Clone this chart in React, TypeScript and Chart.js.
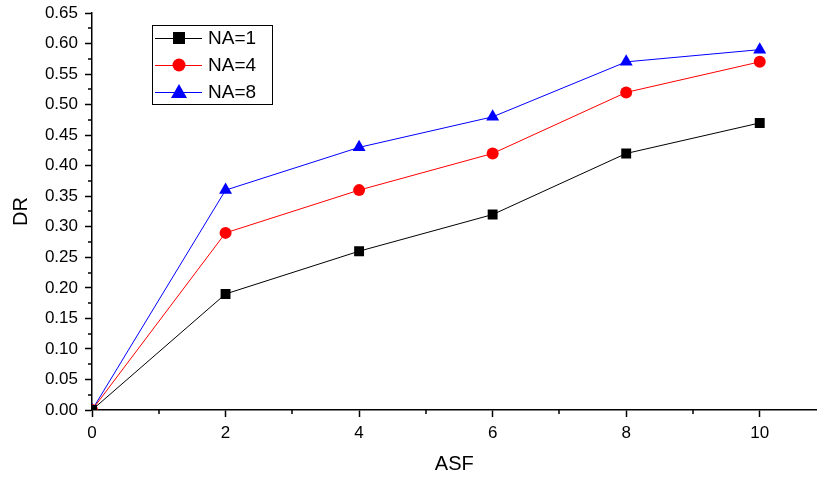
import React, { useEffect, useRef } from "react";
import { Chart, registerables } from "chart.js";

Chart.register(...registerables);

const asf = [0, 2, 4, 6, 8, 10];
const na1 = [0, 0.19, 0.26, 0.32, 0.42, 0.47];
const na4 = [0, 0.29, 0.36, 0.42, 0.52, 0.57];
const na8 = [0, 0.36, 0.43, 0.48, 0.57, 0.59];
const seriesLabels = ["NA=1", "NA=4", "NA=8"];
const seriesColors = ["#000000", "#ff0000", "#0000ff"];
const seriesMarkers = ["rect", "circle", "triangle"];

const FONT = "'Liberation Sans', Arial, sans-serif";

const minorTicks = {
  id: "minorTicks",
  afterDraw(chart: any) {
    const ctx = chart.ctx;
    const x = chart.scales.x;
    const y = chart.scales.y;
    ctx.save();
    ctx.strokeStyle = "#000";
    ctx.lineWidth = 1.5;
    for (let v = 1; v <= 10; v += 2) {
      const px = Math.round(x.getPixelForValue(v));
      ctx.beginPath();
      ctx.moveTo(px, y.bottom);
      ctx.lineTo(px, y.bottom + 4);
      ctx.stroke();
    }
    for (let i = 0; i < 13; i++) {
      const v = 0.025 + i * 0.05;
      const py = Math.round(y.getPixelForValue(v));
      ctx.beginPath();
      ctx.moveTo(x.left, py);
      ctx.lineTo(x.left - 4, py);
      ctx.stroke();
    }
    ctx.restore();
  },
};

const boxLegend = {
  id: "boxLegend",
  afterDraw(chart: any) {
    const ctx = chart.ctx;
    const left = 152;
    const top = 25;
    const w = 120;
    const h = 79;
    ctx.save();
    ctx.fillStyle = "#fff";
    ctx.fillRect(left, top, w, h);
    ctx.strokeStyle = "#000";
    ctx.lineWidth = 1;
    ctx.strokeRect(left + 0.5, top + 0.5, w, h);
    chart.data.datasets.forEach((ds: any, i: number) => {
      const cy = top + 13 + i * 27;
      ctx.strokeStyle = ds.borderColor;
      ctx.lineWidth = 1;
      ctx.beginPath();
      ctx.moveTo(left + 3, cy + 0.5);
      ctx.lineTo(left + 50, cy + 0.5);
      ctx.stroke();
      ctx.fillStyle = ds.borderColor;
      const mx = left + 27;
      const m = ds.pointStyle;
      if (m === "rect") {
        ctx.fillRect(mx - 6, cy - 6, 12, 12);
      } else if (m === "circle") {
        ctx.beginPath();
        ctx.arc(mx, cy, 6.5, 0, Math.PI * 2);
        ctx.fill();
      } else {
        ctx.beginPath();
        ctx.moveTo(mx, cy - 8);
        ctx.lineTo(mx + 8, cy + 6);
        ctx.lineTo(mx - 8, cy + 6);
        ctx.closePath();
        ctx.fill();
      }
      ctx.fillStyle = "#000";
      ctx.font = `19px ${FONT}`;
      ctx.textBaseline = "middle";
      ctx.textAlign = "left";
      ctx.fillText(ds.label, left + 56, cy + 1);
    });
    ctx.restore();
  },
};

export default function App() {
  const ref = useRef<HTMLCanvasElement | null>(null);
  useEffect(() => {
    document.body.style.margin = "0";
    const canvas = ref.current!;
    const data = [na1, na4, na8];
    const chart = new Chart(canvas, {
      type: "line",
      data: {
        datasets: data.map((vals, i) => ({
          label: seriesLabels[i],
          data: asf.map((x, j) => ({ x, y: vals[j] })),
          borderColor: seriesColors[i],
          backgroundColor: seriesColors[i],
          borderWidth: 1,
          pointStyle: seriesMarkers[i] as any,
          pointRadius: i === 0 ? 7 : i === 1 ? 6 : 7.5,
          pointBorderWidth: 0,
          tension: 0,
        })),
      },
      options: {
        animation: false,
        responsive: false,
        layout: { padding: { top: 13, right: 4, left: 0, bottom: 0 } },
        plugins: { legend: { display: false }, tooltip: { enabled: false } },
        scales: {
          x: {
            type: "linear",
            min: 0,
            max: 10.85,
            afterBuildTicks(scale: any) {
              scale.ticks = asf.map((v) => ({ value: v }));
            },
            afterFit(scale: any) {
              scale.height = 69;
              scale.paddingRight = 0;
              scale.paddingLeft = 0;
            },
            ticks: {
              font: { family: FONT, size: 17 },
              color: "#000",
              padding: 6,
              maxRotation: 0,
            },
            grid: {
              display: true,
              drawOnChartArea: false,
              drawTicks: true,
              tickLength: 7,
              tickWidth: 1.5,
              color: "#000",
            },
            border: { display: true, color: "#000", width: 1.5 },
            title: {
              display: true,
              text: "ASF",
              font: { family: FONT, size: 20 },
              color: "#000",
              padding: { top: 0, bottom: 3 },
            },
          },
          y: {
            type: "linear",
            min: 0,
            max: 0.65,
            ticks: {
              stepSize: 0.05,
              font: { family: FONT, size: 17 },
              color: "#000",
              padding: 7,
              callback: (v: any) => Number(v).toFixed(2),
            },
            afterFit(scale: any) {
              scale.width = 92;
              scale.paddingTop = 0;
              scale.paddingBottom = 0;
            },
            grid: {
              display: true,
              drawOnChartArea: false,
              drawTicks: true,
              tickLength: 7,
              tickWidth: 1.5,
              color: "#000",
            },
            border: { display: true, color: "#000", width: 1.5 },
            title: {
              display: true,
              text: "DR",
              font: { family: FONT, size: 20 },
              color: "#000",
              padding: { top: 9, bottom: 0 },
            },
          },
        },
      },
      plugins: [minorTicks, boxLegend],
    });
    return () => chart.destroy();
  }, []);
  return <canvas ref={ref} width={824} height={479} style={{ display: "block" }} />;
}
